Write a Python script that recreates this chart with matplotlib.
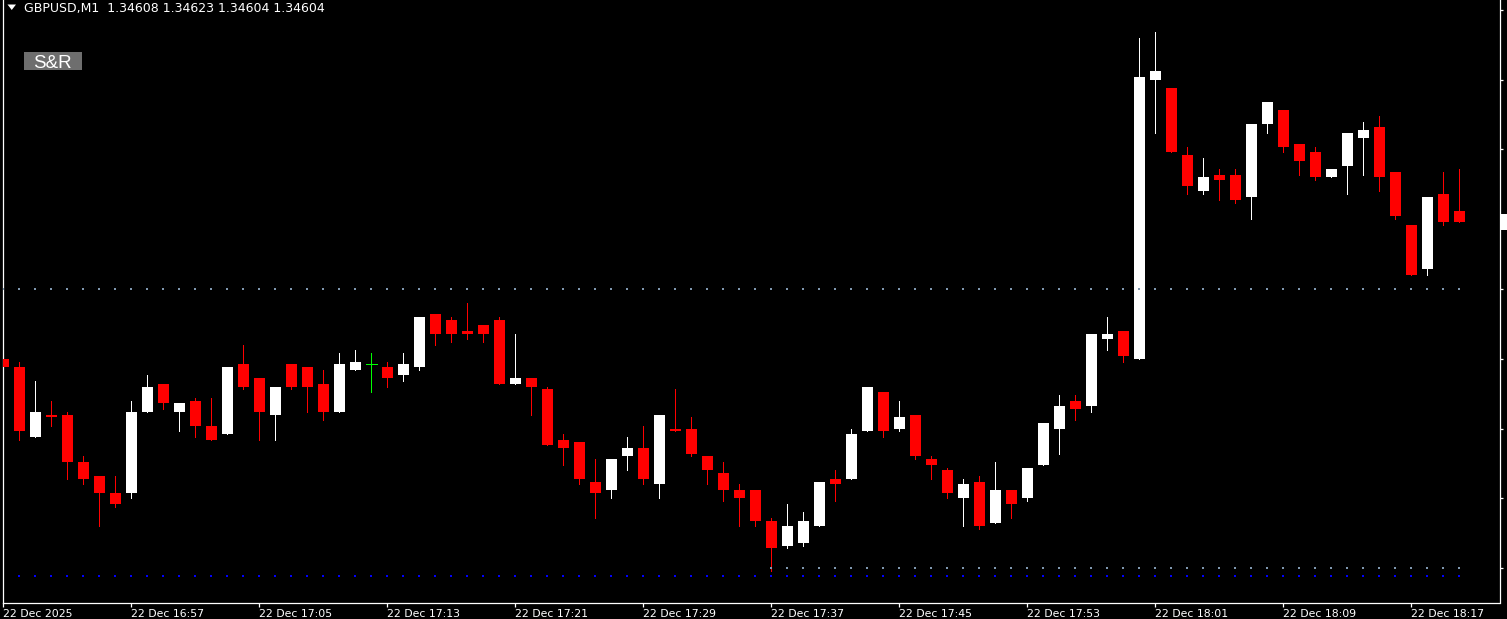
import matplotlib.pyplot as plt
import numpy as np
from matplotlib.patches import Rectangle, Polygon
from matplotlib.transforms import blended_transform_factory

# GBPUSD M1 bars, 16:49 .. 18:20
opens = [1.34555, 1.34552, 1.34527, 1.34535, 1.34535, 1.34518, 1.34513, 1.34507, 1.34507, 1.34536,
         1.34546, 1.34536, 1.34540, 1.34531, 1.34528, 1.34553, 1.34548, 1.34535, 1.34553, 1.34552,
         1.34546, 1.34536, 1.34551, 1.34553, 1.34552, 1.34549, 1.34552, 1.34571, 1.34569, 1.34565,
         1.34567, 1.34569, 1.34546, 1.34548, 1.34544, 1.34526, 1.34525, 1.34511, 1.34508, 1.34520,
         1.34523, 1.34510, 1.34530, 1.34530, 1.34520, 1.34514, 1.34508, 1.34508, 1.34497, 1.34488,
         1.34489, 1.34495, 1.34512, 1.34512, 1.34529, 1.34543, 1.34530, 1.34535, 1.34519, 1.34515,
         1.34505, 1.34511, 1.34496, 1.34508, 1.34505, 1.34517, 1.34530, 1.34540, 1.34538, 1.34562,
         1.34565, 1.34555, 1.34655, 1.34652, 1.34628, 1.34615, 1.34621, 1.34621, 1.34613, 1.34639,
         1.34644, 1.34632, 1.34629, 1.34620, 1.34624, 1.34634, 1.34638, 1.34622, 1.34603, 1.34587,
         1.34614, 1.34608]
highs = [1.34564, 1.34554, 1.34547, 1.34540, 1.34536, 1.34520, 1.34513, 1.34513, 1.34540, 1.34549,
         1.34546, 1.34539, 1.34541, 1.34541, 1.34552, 1.34560, 1.34548, 1.34545, 1.34553, 1.34552,
         1.34551, 1.34557, 1.34558, 1.34557, 1.34554, 1.34557, 1.34570, 1.34571, 1.34570, 1.34575,
         1.34567, 1.34570, 1.34564, 1.34548, 1.34545, 1.34528, 1.34525, 1.34519, 1.34519, 1.34527,
         1.34531, 1.34535, 1.34544, 1.34534, 1.34520, 1.34518, 1.34510, 1.34508, 1.34498, 1.34503,
         1.34500, 1.34511, 1.34515, 1.34530, 1.34545, 1.34543, 1.34540, 1.34535, 1.34520, 1.34516,
         1.34512, 1.34513, 1.34518, 1.34508, 1.34516, 1.34532, 1.34542, 1.34542, 1.34564, 1.34570,
         1.34565, 1.34670, 1.34672, 1.34652, 1.34631, 1.34627, 1.34623, 1.34623, 1.34639, 1.34647,
         1.34644, 1.34632, 1.34631, 1.34623, 1.34636, 1.34640, 1.34642, 1.34622, 1.34603, 1.34613,
         1.34622, 1.34623]
lows = [1.34549, 1.34526, 1.34527, 1.34531, 1.34512, 1.34510, 1.34495, 1.34502, 1.34505, 1.34536,
        1.34537, 1.34529, 1.34527, 1.34526, 1.34528, 1.34544, 1.34526, 1.34526, 1.34544, 1.34536,
        1.34533, 1.34536, 1.34551, 1.34543, 1.34545, 1.34547, 1.34551, 1.34560, 1.34561, 1.34562,
        1.34561, 1.34546, 1.34546, 1.34535, 1.34524, 1.34517, 1.34510, 1.34498, 1.34505, 1.34515,
        1.34510, 1.34505, 1.34529, 1.34520, 1.34510, 1.34504, 1.34495, 1.34495, 1.34479, 1.34487,
        1.34488, 1.34495, 1.34504, 1.34512, 1.34529, 1.34527, 1.34529, 1.34519, 1.34512, 1.34505,
        1.34495, 1.34494, 1.34496, 1.34498, 1.34504, 1.34517, 1.34521, 1.34533, 1.34536, 1.34558,
        1.34554, 1.34555, 1.34636, 1.34629, 1.34614, 1.34614, 1.34612, 1.34611, 1.34605, 1.34636,
        1.34629, 1.34621, 1.34619, 1.34620, 1.34614, 1.34621, 1.34615, 1.34605, 1.34585, 1.34585,
        1.34603, 1.34604]
closes = [1.34552, 1.34529, 1.34536, 1.34534, 1.34518, 1.34512, 1.34507, 1.34503, 1.34536, 1.34545,
          1.34539, 1.34539, 1.34531, 1.34526, 1.34552, 1.34545, 1.34536, 1.34545, 1.34545, 1.34545,
          1.34536, 1.34553, 1.34554, 1.34553, 1.34548, 1.34553, 1.34570, 1.34564, 1.34564, 1.34564,
          1.34564, 1.34546, 1.34548, 1.34545, 1.34524, 1.34523, 1.34512, 1.34507, 1.34519, 1.34523,
          1.34512, 1.34535, 1.34529, 1.34521, 1.34515, 1.34508, 1.34505, 1.34497, 1.34487, 1.34495,
          1.34497, 1.34511, 1.34510, 1.34528, 1.34545, 1.34529, 1.34534, 1.34520, 1.34517, 1.34507,
          1.34510, 1.34495, 1.34508, 1.34503, 1.34516, 1.34532, 1.34538, 1.34537, 1.34564, 1.34564,
          1.34556, 1.34656, 1.34658, 1.34629, 1.34617, 1.34620, 1.34619, 1.34612, 1.34639, 1.34647,
          1.34631, 1.34626, 1.34620, 1.34623, 1.34636, 1.34637, 1.34620, 1.34606, 1.34585, 1.34613,
          1.34604, 1.34604]

# S&R indicator levels (value, first bar)
resistance, res_start = 1.34580, 0
support, sup_start = 1.34480, 48
support2, sup2_start = 1.34477, 1

price_ticks = [1.34480, 1.34505, 1.34530, 1.34555, 1.34580, 1.34605, 1.34630, 1.34655, 1.34680]
time_ticks = [0, 8, 16, 24, 32, 40, 48, 56, 64, 72, 80, 88]
time_labels = ["22 Dec 2025", "22 Dec 16:57", "22 Dec 17:05", "22 Dec 17:13", "22 Dec 17:21",
               "22 Dec 17:29", "22 Dec 17:37", "22 Dec 17:45", "22 Dec 17:53", "22 Dec 18:01",
               "22 Dec 18:09", "22 Dec 18:17"]
title = "GBPUSD,M1  1.34608 1.34623 1.34604 1.34604"

O = np.array(opens)
H = np.array(highs)
L = np.array(lows)
C = np.array(closes)
n = len(O)
x = np.arange(n)

W, Hpx = 1507, 619
fig = plt.figure(figsize=(W / 100, Hpx / 100), dpi=100, facecolor="black")
ax = fig.add_axes([2.5 / W, 16 / Hpx, 1497 / W, 603 / Hpx])
ax.set_facecolor("black")

ax.set_xlim(-0.06, 93.5)
ax.set_ylim(1.3446746, 1.3468358)

bull = C > O
bear = C < O
doji = C == O
col = np.where(bull, "white", np.where(bear, "#ff0000", "#00ff00"))

# 1 px wicks
ax.vlines(x, L, H, colors=col, linewidth=0.72, antialiased=False, zorder=2)
body = ~doji
ax.bar(x[body], np.abs(C - O)[body], bottom=np.minimum(O, C)[body], width=0.69,
       color=col[body], linewidth=0, antialiased=False, zorder=3)
ax.hlines(O[doji], x[doji] - 0.345, x[doji] + 0.345, colors="#00ff00", linewidth=0.72,
          antialiased=False, zorder=3)

# indicator dots
xr = x[res_start:]
ax.scatter(xr, np.full(len(xr), resistance), s=4, marker="s", color="#8098b0", linewidths=0, zorder=4)
xs = x[sup_start:]
ax.scatter(xs, np.full(len(xs), support), s=4, marker="s", color="#8098b0", linewidths=0, zorder=4)
xs2 = x[sup2_start:]
ax.scatter(xs2, np.full(len(xs2), support2), s=4, marker="s", color="#0000ff", linewidths=0, zorder=4)

for s in ["left", "bottom", "right"]:
    ax.spines[s].set_color("white")
    ax.spines[s].set_linewidth(0.9)
ax.spines["top"].set_visible(False)

ax.set_xticks(time_ticks)
ax.set_xticklabels(time_labels, ha="left")
ax.tick_params(axis="x", colors="white", length=3, width=0.9, direction="out", pad=1.5, labelsize=7.8)
ax.yaxis.set_ticks_position("right")
ax.set_yticks(price_ticks)
ax.tick_params(axis="y", colors="white", length=2.5, width=0.9, direction="out",
               labelright=False, labelleft=False)

# current price marker on the price scale
tr = blended_transform_factory(ax.transAxes, ax.transData)
ax.add_patch(Rectangle((1.0012, C[-1] - 8 / 279000), 0.01, 16 / 279000, transform=tr,
                       facecolor="white", edgecolor="none", clip_on=False))

# header
fig.add_artist(Polygon([(7.5 / W, 1 - 4.5 / Hpx), (16 / W, 1 - 4.5 / Hpx), (11.75 / W, 1 - 10 / Hpx)],
                       closed=True, facecolor="white", edgecolor="none", transform=fig.transFigure))
fig.text(24 / W, 1 - 2 / Hpx, title, color="white", fontsize=9, va="top", ha="left")

fig.add_artist(Rectangle((24 / W, 1 - 70 / Hpx), 58 / W, 18 / Hpx, facecolor="#6e6e6e",
                         edgecolor="none", transform=fig.transFigure))
fig.text(52 / W, 1 - 68 / Hpx, "S&R", color="white", fontsize=13.5, family="Liberation Sans",
         ha="center", va="baseline")

fig.savefig("out.png", dpi=100, facecolor="black")
